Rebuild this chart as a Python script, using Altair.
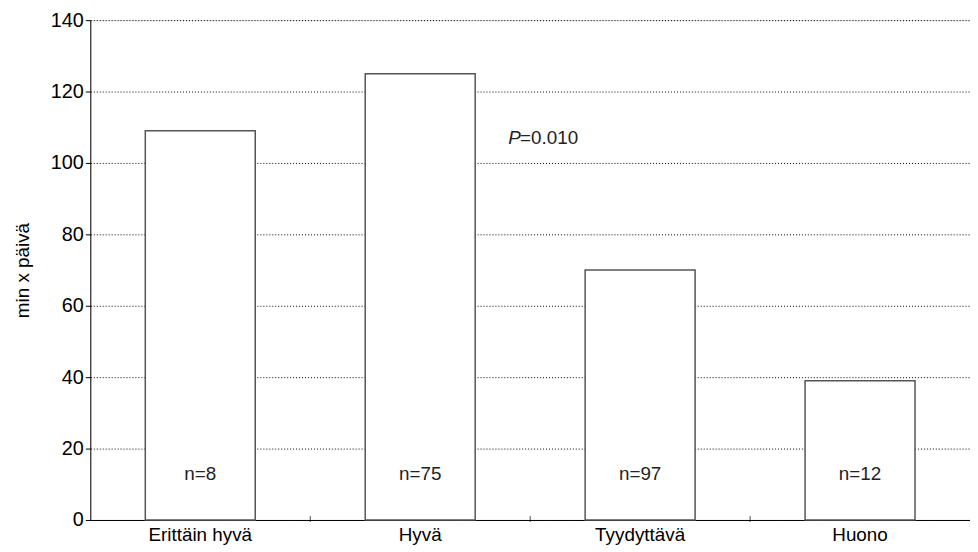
import altair as alt
import pandas as pd

categories = ["Erittäin hyvä", "Hyvä", "Tyydyttävä", "Huono"]
values = [109, 125, 70, 39]
n_labels = ["n=8", "n=75", "n=97", "n=12"]
n_label_y = [13, 13, 13, 13]
p_category = ["Hyvä"]
p_y = [107]
p_symbol = ["P"]
p_value = ["=0.010"]
y_ticks = [0, 20, 40, 60, 80, 100, 120, 140]

FONT = "Liberation Sans"

df = pd.DataFrame({"cat": categories, "val": values, "nlab": n_labels, "ny": n_label_y})
dfp = pd.DataFrame({"cat": p_category, "py": p_y, "sym": p_symbol, "txt": p_value})
dft = pd.DataFrame({"cat": categories[1:]})

xenc = alt.X("cat:N", sort=categories, title=None,
             scale=alt.Scale(paddingInner=0, paddingOuter=0),
             axis=alt.Axis(ticks=False, labelFontSize=19, labelFont=FONT, labelColor="#000",
                           labelPadding=6, domainColor="#000", domainWidth=1, labelAngle=0))
yscale = alt.Scale(domain=[0, 140], nice=False)

bars = alt.Chart(df).mark_bar(
    fill="white", stroke="#555", strokeWidth=1.5, width=alt.RelativeBandSize(0.5)
).encode(
    x=xenc,
    y=alt.Y("val:Q", scale=yscale, title="min x päivä",
            axis=alt.Axis(values=y_ticks, grid=True, gridDash=[1, 2], gridColor="#000",
                          gridWidth=1, domainColor="#000", tickColor="#000", tickSize=5,
                          labelFontSize=20, labelFont=FONT, labelColor="#000", labelPadding=2,
                          titleFont=FONT, titleFontSize=19, titleFontWeight="normal",
                          titleColor="#000", titlePadding=18)),
)

ntext = alt.Chart(df).mark_text(fontSize=19, font=FONT, color="#222", baseline="middle").encode(
    x=alt.X("cat:N", sort=categories),
    y=alt.Y("ny:Q", scale=yscale),
    text="nlab:N",
)

psym = alt.Chart(dfp).mark_text(fontSize=19, font=FONT, fontStyle="italic", color="#222",
                                align="left", baseline="middle").encode(
    x=alt.X("cat:N", sort=categories, bandPosition=0.9),
    y=alt.Y("py:Q", scale=yscale),
    text="sym:N",
)
pval = alt.Chart(dfp).mark_text(fontSize=19, font=FONT, color="#222", align="left",
                                baseline="middle", dx=12).encode(
    x=alt.X("cat:N", sort=categories, bandPosition=0.9),
    y=alt.Y("py:Q", scale=yscale),
    text="txt:N",
)

ticks = alt.Chart(dft).mark_tick(color="#000", thickness=1, size=6, orient="vertical").encode(
    x=alt.X("cat:N", sort=categories, bandPosition=0),
    y=alt.Y("z:Q", scale=yscale),
).transform_calculate(z="0.3")

chart = alt.layer(bars, ntext, psym, pval, ticks).properties(
    width=970, height=539,
    autosize=alt.AutoSizeParams(type="fit", contains="padding"),
    padding={"left": 5, "top": 0, "right": 0, "bottom": 0},
).configure_view(stroke=None).configure(background="white")

chart.save("out.html", embed_options={"renderer": "svg", "actions": False})
